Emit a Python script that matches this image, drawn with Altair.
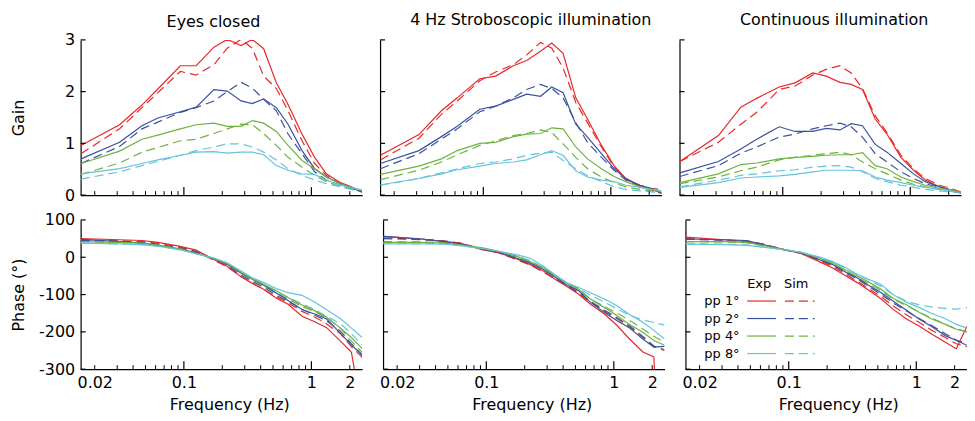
import altair as alt
import pandas as pd

FREQ = [0.0156, 0.0313, 0.0469, 0.0625, 0.0938, 0.125, 0.172, 0.219, 0.281, 0.344,
        0.422, 0.531, 0.656, 0.844, 1.06, 1.31, 1.69, 2.06, 2.5]
CONDITIONS = ["Eyes closed", "4 Hz Stroboscopic illumination", "Continuous illumination"]
PP = ["pp 1°", "pp 2°", "pp 4°", "pp 8°"]
KINDS = ["Exp", "Sim"]

X_LABELS = [0.02, 0.1, 1, 2]
X_MINOR_TICKS = [0.02, 0.03, 0.04, 0.05, 0.06, 0.07, 0.08, 0.09,
                 0.2, 0.3, 0.4, 0.5, 0.6, 0.7, 0.8, 0.9, 2]
X_MAJOR_TICKS = [0.1, 1]
GAIN_TICKS = [0, 1, 2, 3]
PHASE_TICKS = [100, 0, -100, -200, -300]

# ---- Gain ----
EC_GAIN_EXP = [
    [0.96, 1.36, 1.74, 2.05, 2.50, 2.50, 2.86, 3.01, 2.89, 3.01, 2.83, 2.17, 1.75, 1.18, 0.73, 0.41, 0.24, 0.16, 0.06],
    [0.70, 1.02, 1.34, 1.49, 1.61, 1.70, 2.04, 2.01, 1.82, 1.77, 1.86, 1.69, 1.37, 0.86, 0.51, 0.35, 0.22, 0.14, 0.06],
    [0.61, 0.85, 1.08, 1.16, 1.28, 1.36, 1.39, 1.33, 1.33, 1.44, 1.39, 1.23, 0.96, 0.67, 0.51, 0.35, 0.22, 0.15, 0.08],
    [0.41, 0.51, 0.61, 0.68, 0.77, 0.83, 0.84, 0.81, 0.83, 0.83, 0.78, 0.57, 0.48, 0.41, 0.40, 0.29, 0.19, 0.14, 0.10],
]
EC_GAIN_SIM = [
    [0.80, 1.28, 1.69, 1.98, 2.39, 2.32, 2.52, 2.84, 3.01, 2.84, 2.30, 2.06, 1.63, 1.05, 0.61, 0.38, 0.22, 0.14, 0.08],
    [0.61, 0.94, 1.28, 1.41, 1.60, 1.69, 1.82, 2.00, 2.18, 2.07, 1.85, 1.63, 1.18, 0.80, 0.45, 0.29, 0.19, 0.13, 0.06],
    [0.40, 0.62, 0.83, 0.92, 1.05, 1.08, 1.19, 1.28, 1.37, 1.36, 1.19, 0.96, 0.73, 0.54, 0.38, 0.26, 0.16, 0.11, 0.06],
    [0.31, 0.45, 0.57, 0.65, 0.77, 0.86, 0.93, 0.99, 0.99, 0.93, 0.83, 0.68, 0.51, 0.38, 0.29, 0.22, 0.16, 0.11, 0.06],
]
ST_GAIN_EXP = [
    [0.77, 1.17, 1.63, 1.88, 2.25, 2.30, 2.50, 2.60, 2.78, 2.94, 2.74, 1.88, 1.47, 0.96, 0.57, 0.32, 0.17, 0.11, 0.04],
    [0.61, 0.86, 1.13, 1.33, 1.66, 1.72, 1.85, 1.95, 1.91, 2.09, 1.98, 1.37, 1.12, 0.80, 0.51, 0.32, 0.19, 0.13, 0.04],
    [0.40, 0.56, 0.70, 0.86, 1.00, 1.02, 1.13, 1.18, 1.19, 1.30, 1.28, 0.93, 0.70, 0.51, 0.36, 0.26, 0.16, 0.11, 0.06],
    [0.20, 0.32, 0.41, 0.49, 0.56, 0.61, 0.64, 0.68, 0.78, 0.86, 0.77, 0.47, 0.35, 0.29, 0.26, 0.19, 0.15, 0.11, 0.08],
]
ST_GAIN_SIM = [
    [0.68, 1.10, 1.56, 1.82, 2.21, 2.38, 2.52, 2.71, 2.95, 2.84, 2.46, 1.79, 1.40, 0.93, 0.54, 0.30, 0.19, 0.13, 0.11],
    [0.51, 0.80, 1.08, 1.28, 1.61, 1.72, 1.88, 2.04, 2.14, 2.06, 1.88, 1.40, 1.02, 0.73, 0.48, 0.29, 0.17, 0.10, 0.03],
    [0.30, 0.48, 0.64, 0.78, 0.96, 1.05, 1.15, 1.19, 1.26, 1.21, 0.99, 0.73, 0.51, 0.35, 0.24, 0.16, 0.11, 0.08, 0.04],
    [0.19, 0.32, 0.43, 0.51, 0.61, 0.64, 0.70, 0.77, 0.81, 0.83, 0.67, 0.51, 0.38, 0.26, 0.16, 0.11, 0.08, 0.06, 0.04],
]
CI_GAIN_EXP = [
    [0.65, 1.15, 1.70, 1.87, 2.09, 2.17, 2.36, 2.30, 2.18, 2.14, 2.04, 1.47, 1.18, 0.73, 0.48, 0.29, 0.16, 0.10, 0.04],
    [0.43, 0.65, 0.89, 1.08, 1.32, 1.23, 1.23, 1.29, 1.26, 1.38, 1.34, 0.98, 0.83, 0.61, 0.41, 0.26, 0.16, 0.10, 0.04],
    [0.24, 0.41, 0.59, 0.62, 0.70, 0.73, 0.75, 0.77, 0.78, 0.78, 0.82, 0.57, 0.51, 0.35, 0.26, 0.19, 0.13, 0.10, 0.06],
    [0.15, 0.24, 0.33, 0.35, 0.37, 0.40, 0.45, 0.48, 0.48, 0.48, 0.47, 0.35, 0.29, 0.24, 0.19, 0.15, 0.11, 0.08, 0.04],
]
CI_GAIN_SIM = [
    [0.65, 1.02, 1.37, 1.60, 2.04, 2.11, 2.32, 2.43, 2.50, 2.36, 2.06, 1.53, 1.21, 0.77, 0.51, 0.32, 0.19, 0.13, 0.06],
    [0.36, 0.57, 0.81, 0.93, 1.12, 1.18, 1.28, 1.34, 1.39, 1.32, 1.12, 0.80, 0.64, 0.45, 0.32, 0.22, 0.15, 0.10, 0.04],
    [0.22, 0.35, 0.47, 0.54, 0.68, 0.73, 0.77, 0.80, 0.83, 0.78, 0.64, 0.51, 0.41, 0.29, 0.21, 0.16, 0.11, 0.08, 0.04],
    [0.16, 0.29, 0.38, 0.41, 0.47, 0.49, 0.54, 0.56, 0.57, 0.54, 0.45, 0.32, 0.26, 0.19, 0.15, 0.11, 0.08, 0.06, 0.04],
]

# ---- Phase ----
EC_PHASE_EXP = [
    [50, 47, 45, 40, 29, 19, -6, -24, -52, -70, -86, -110, -126, -158, -173, -188, -225, -255, -420],
    [48, 42, 38, 32, 22, 12, -4, -19, -43, -59, -75, -96, -116, -140, -152, -165, -204, -235, -262],
    [42, 40, 38, 32, 22, 10, -3, -17, -40, -58, -73, -90, -108, -128, -143, -160, -190, -215, -245],
    [38, 36, 34, 30, 20, 9, -2, -15, -37, -55, -68, -84, -95, -102, -120, -140, -165, -190, -215],
]
EC_PHASE_SIM = [
    [46, 44, 42, 38, 27, 16, -8, -26, -52, -68, -86, -106, -122, -145, -160, -178, -205, -240, -268],
    [45, 43, 40, 35, 25, 14, -6, -22, -48, -64, -80, -102, -118, -140, -155, -170, -198, -232, -262],
    [42, 40, 38, 33, 23, 12, -4, -20, -44, -60, -76, -96, -112, -132, -146, -162, -190, -225, -255],
    [38, 36, 34, 30, 21, 10, -4, -18, -42, -58, -72, -92, -108, -125, -140, -158, -178, -205, -235],
]
ST_PHASE_EXP = [
    [56, 49, 42, 38, 20, 12, -4, -19, -37, -58, -77, -99, -126, -152, -183, -217, -254, -267, -900],
    [56, 49, 42, 36, 22, 14, -2, -15, -33, -52, -73, -90, -121, -148, -170, -188, -219, -241, -239],
    [40, 40, 38, 33, 25, 16, 3, -11, -28, -49, -68, -86, -112, -135, -157, -179, -201, -223, -236],
    [36, 36, 35, 31, 23, 16, 7, -2, -24, -46, -68, -81, -95, -112, -130, -152, -174, -196, -219],
]
ST_PHASE_SIM = [
    [52, 48, 44, 38, 22, 12, -6, -20, -40, -58, -75, -98, -120, -145, -165, -185, -215, -240, -250],
    [50, 47, 43, 37, 22, 12, -5, -18, -38, -56, -73, -95, -118, -142, -162, -182, -212, -238, -248],
    [42, 41, 39, 34, 23, 14, 0, -14, -32, -52, -70, -90, -112, -132, -150, -168, -192, -212, -228],
    [38, 37, 36, 32, 23, 15, 3, -8, -28, -48, -66, -84, -102, -120, -138, -155, -168, -175, -182],
]
CI_PHASE_EXP = [
    [54, 47, 42, 34, 20, 10, -11, -28, -50, -68, -88, -112, -139, -166, -185, -205, -228, -245, -185],
    [49, 47, 45, 34, 19, 12, -6, -19, -40, -55, -75, -95, -117, -143, -166, -185, -210, -223, -236],
    [42, 42, 40, 32, 20, 13, -2, -15, -35, -50, -66, -86, -110, -128, -148, -165, -180, -193, -200],
    [35, 34, 32, 27, 20, 13, 1, -11, -28, -46, -59, -73, -100, -121, -135, -150, -165, -180, -190],
]
CI_PHASE_SIM = [
    [50, 46, 42, 36, 20, 10, -8, -24, -46, -64, -84, -106, -130, -155, -175, -195, -215, -232, -240],
    [48, 46, 44, 35, 20, 12, -5, -20, -42, -58, -78, -100, -122, -145, -165, -182, -205, -222, -232],
    [42, 41, 39, 32, 20, 12, -3, -17, -38, -54, -70, -90, -112, -130, -148, -162, -180, -192, -200],
    [36, 35, 33, 28, 20, 13, 0, -12, -30, -46, -60, -78, -100, -118, -128, -133, -137, -139, -135],
]

# ---- styling / layout ----
COLORS = ["#e8282b", "#3a51a0", "#6db33f", "#64c3dd"]
FONT = "DejaVu Sans"
W = 283
H_GAIN = 156
H_PHASE = 150
FMIN, FMAX = 0.0155, 2.5
TITLE_DX = [-8, 10, 14]
TITLE_OFFSET = [2, 11, 11]
XTITLE_DX = [8, 8, 12]
DASH = [9, 5]

SOURCES = {
    ("Gain", 0): (EC_GAIN_EXP, EC_GAIN_SIM),
    ("Gain", 1): (ST_GAIN_EXP, ST_GAIN_SIM),
    ("Gain", 2): (CI_GAIN_EXP, CI_GAIN_SIM),
    ("Phase", 0): (EC_PHASE_EXP, EC_PHASE_SIM),
    ("Phase", 1): (ST_PHASE_EXP, ST_PHASE_SIM),
    ("Phase", 2): (CI_PHASE_EXP, CI_PHASE_SIM),
}


def long_frame(qty, ci):
    exp, sim = SOURCES[(qty, ci)]
    rows = []
    for kind, block in zip(KINDS, (exp, sim)):
        for pp, series in zip(PP, block):
            for f, v in zip(FREQ, series):
                rows.append({"f": f, "v": v, "pp": pp, "kind": kind})
    return pd.DataFrame(rows)


def panel(qty, ci):
    top = qty == "Gain"
    H = H_GAIN if top else H_PHASE
    ydom = [0, 3] if top else [-300, 100]
    yt = GAIN_TICKS if top else PHASE_TICKS
    df = long_frame(qty, ci)

    xs = alt.Scale(type="log", domain=[FMIN, FMAX], nice=False)
    ys = alt.Scale(domain=ydom, nice=False, zero=False)

    if top:
        xaxis = alt.Axis(values=X_LABELS, labels=False, title=None)
    else:
        xaxis = alt.Axis(values=X_LABELS, labelExpr="'' + datum.value",
                         title="Frequency (Hz)", titleX=W / 2 + XTITLE_DX[ci],
                         labelFlush=False, labelPadding=5, titlePadding=7)
    if ci == 0:
        yaxis = alt.Axis(values=yt, labelExpr="'' + datum.value",
                         title=qty if top else "Phase (°)",
                         titleAngle=270, titleX=-57, titleY=H / 2,
                         titleBaseline="alphabetic", titleAlign="center",
                         labelPadding=6)
    else:
        yaxis = alt.Axis(values=yt, labels=False, title=None)

    X = alt.X("f:Q", scale=xs, axis=xaxis)
    Y = alt.Y("v:Q", scale=ys, axis=yaxis)
    color = alt.Color("pp:N", scale=alt.Scale(domain=PP, range=COLORS), legend=None)

    sim = alt.Chart(df[df.kind == "Sim"]).mark_line(
        clip=True, strokeWidth=1.2, strokeDash=DASH
    ).encode(x=X, y=Y, color=color)
    exp = alt.Chart(df[df.kind == "Exp"]).mark_line(
        clip=True, strokeWidth=1.2
    ).encode(x=X, y=Y, color=color)
    minor = alt.Chart(pd.DataFrame({"f": X_MINOR_TICKS})).mark_rule(
        color="black", strokeWidth=1
    ).encode(x=X, y=alt.value(H), y2=alt.value(H - 4))
    major = alt.Chart(pd.DataFrame({"f": X_MAJOR_TICKS})).mark_rule(
        color="black", strokeWidth=1.2
    ).encode(x=X, y=alt.value(H), y2=alt.value(H - 8))
    yticks = alt.Chart(pd.DataFrame({"v": yt})).mark_rule(
        color="black", strokeWidth=1.2
    ).encode(y=Y, x=alt.value(0), x2=alt.value(5))
    layers = [sim, exp, minor, major, yticks]

    if (not top) and ci == 2:
        # legend drawn inside the last phase panel
        txt = dict(align="left", baseline="middle", font=FONT, fontSize=13, color="black")
        for kind, xx in zip(KINDS, (62, 99)):
            layers.append(
                alt.Chart(pd.DataFrame({"label": [kind]})).mark_text(**txt).encode(
                    text="label:N", x=alt.value(xx), y=alt.value(64.5))
            )
        for i, (pp, col) in enumerate(zip(PP, COLORS)):
            yy = 81.5 + i * 17.6
            lab = alt.Chart(pd.DataFrame({"label": [pp]})).mark_text(**txt).encode(
                text="label:N", x=alt.value(19), y=alt.value(yy))
            solid = alt.Chart(pd.DataFrame({"label": [pp]})).mark_rule(
                color=col, strokeWidth=1.2
            ).encode(x=alt.value(62), x2=alt.value(91), y=alt.value(yy))
            dashed = alt.Chart(pd.DataFrame({"label": [pp]})).mark_rule(
                color=col, strokeWidth=1.2, strokeDash=DASH
            ).encode(x=alt.value(100), x2=alt.value(130), y=alt.value(yy))
            layers += [lab, solid, dashed]

    ch = alt.layer(*layers).properties(width=W, height=H)
    if top:
        ch = ch.properties(title=alt.TitleParams(text=CONDITIONS[ci], dx=TITLE_DX[ci],
                                                 offset=TITLE_OFFSET[ci], frame="group"))
    return ch


top_row = alt.hconcat(*[panel("Gain", i) for i in range(3)], spacing=17)
bottom_row = alt.hconcat(*[panel("Phase", i) for i in range(3)], spacing=17)

chart = alt.vconcat(top_row, bottom_row, spacing=9).properties(
    padding={"left": 3, "top": 3, "right": 0, "bottom": 0}
).configure_view(
    stroke=None
).configure_axis(
    domainColor="black", domainWidth=1.2, ticks=False, grid=False,
    labelFont=FONT, labelFontSize=16, labelColor="black",
    titleFont=FONT, titleFontSize=16, titleFontWeight="normal", titleColor="black",
).configure_title(
    font=FONT, fontSize=16, fontWeight="normal", color="black", anchor="middle"
)

chart.save("out.html", embed_options={"renderer": "svg", "actions": False})
